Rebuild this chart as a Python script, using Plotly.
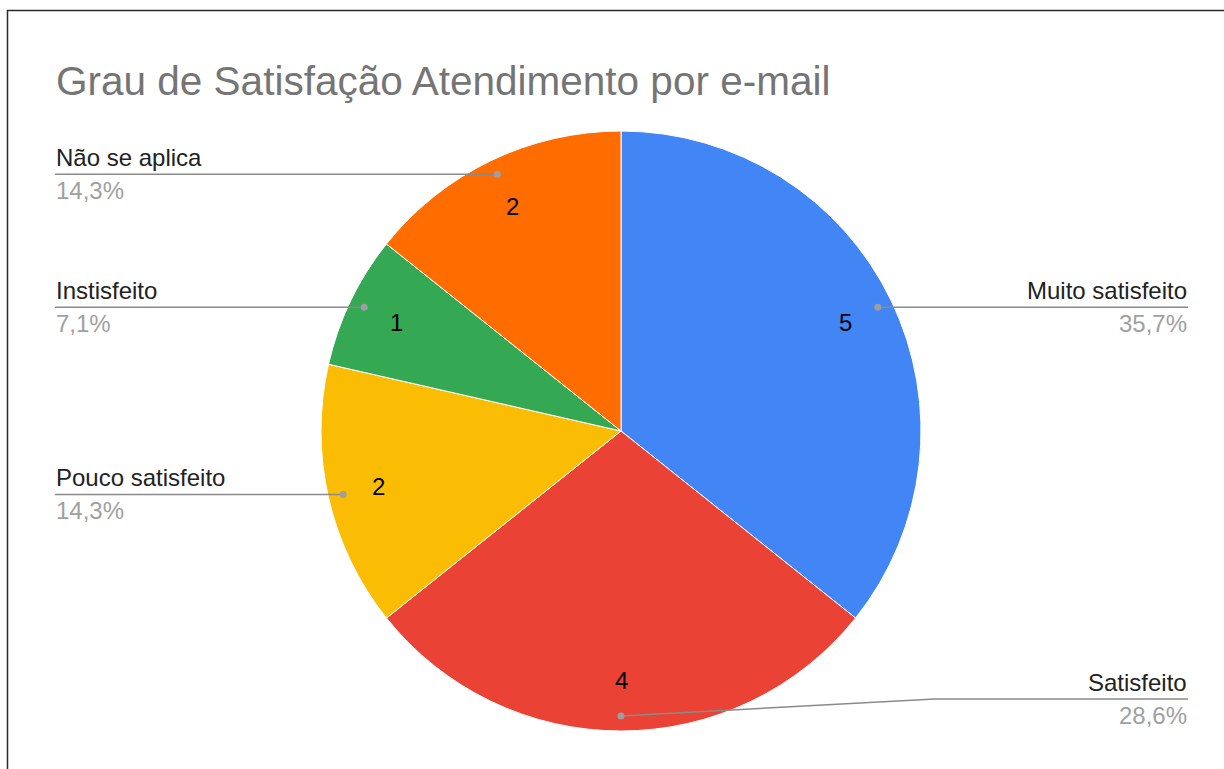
import math
import plotly.graph_objects as go

# ---- data ----
categories = ["Muito satisfeito", "Satisfeito", "Pouco satisfeito", "Instisfeito", "Não se aplica"]
values = [5, 4, 2, 1, 2]
colors = ["#4285F4", "#EA4335", "#FBBC04", "#34A853", "#FF6D01"]
title_text = "Grau de Satisfação Atendimento por e-mail"

# ---- layout geometry (pixels) ----
W, H = 1224, 769
CX, CY, R = 621, 431, 300
LEFT_X, RIGHT_X = 55, 1188
MAX_LINE_Y = 699
KINK_X = 935
FONT = "Liberation Sans, Arial, sans-serif"
LABEL_SIZE = 24


def px(x):
    return x / W


def py(y):
    return 1 - y / H


total = sum(values)
fig = go.Figure()
fig.add_trace(go.Pie(
    labels=categories, values=values, sort=False, direction="clockwise", rotation=0,
    marker=dict(colors=colors, line=dict(color="white", width=1)),
    textinfo="none", hoverinfo="label+value+percent", showlegend=False,
    domain=dict(x=[px(CX - R), px(CX + R)], y=[py(CY + R), py(CY - R)]),
))

annotations = []
shapes = []
cum = 0
for cat, v in zip(categories, values):
    mid = (cum + v / 2) / total * 2 * math.pi
    cum += v
    s, c = math.sin(mid), math.cos(mid)
    # value inside slice
    nx, ny = CX + 0.83 * R * s, CY - 0.83 * R * c
    annotations.append(dict(x=px(nx), y=py(ny), xref="paper", yref="paper", text=str(v),
                            showarrow=False, font=dict(family=FONT, size=LABEL_SIZE, color="#000000"),
                            xanchor="center", yanchor="middle"))
    # leader dot
    dx, dy = CX + 0.95 * R * s, CY - 0.95 * R * c
    line_y = min(dy, MAX_LINE_Y)
    right = s > 0 or (abs(s) < 1e-9 and c < 0)
    end_x = RIGHT_X if right else LEFT_X
    if abs(line_y - dy) > 0.5:
        shapes.append(dict(type="line", xref="paper", yref="paper", x0=px(dx), y0=py(dy),
                           x1=px(KINK_X), y1=py(line_y), line=dict(color="#8a8a8a", width=1.5)))
        shapes.append(dict(type="line", xref="paper", yref="paper", x0=px(KINK_X), y0=py(line_y),
                           x1=px(end_x), y1=py(line_y), line=dict(color="#8a8a8a", width=1.5)))
    else:
        shapes.append(dict(type="line", xref="paper", yref="paper", x0=px(dx), y0=py(line_y),
                           x1=px(end_x), y1=py(line_y), line=dict(color="#8a8a8a", width=1.5)))
    rr = 3.5
    shapes.append(dict(type="circle", xref="paper", yref="paper", x0=px(dx - rr), x1=px(dx + rr),
                       y0=py(dy + rr), y1=py(dy - rr), fillcolor="#9e9e9e", line=dict(width=0)))
    anchor = "right" if right else "left"
    annotations.append(dict(x=px(end_x), y=py(line_y - 2), xref="paper", yref="paper", text=cat,
                            showarrow=False, font=dict(family=FONT, size=LABEL_SIZE, color="#222222"),
                            xanchor=anchor, yanchor="bottom", borderpad=0))
    pct = f"{v / total * 100:.1f}".replace(".", ",") + "%"
    annotations.append(dict(x=px(end_x), y=py(line_y + 2), xref="paper", yref="paper", text=pct,
                            showarrow=False, font=dict(family=FONT, size=LABEL_SIZE, color="#a0a0a0"),
                            xanchor=anchor, yanchor="top", borderpad=0))

# title
annotations.append(dict(x=px(55), y=py(57), xref="paper", yref="paper", text=title_text,
                        showarrow=False, font=dict(family=FONT, size=40.5, color="#757575"),
                        xanchor="left", yanchor="top", borderpad=0))

# frame
shapes.append(dict(type="rect", xref="paper", yref="paper", x0=px(7.5), x1=px(W + 20),
                   y0=py(H + 20), y1=py(10.5), line=dict(color="#2a2a2a", width=1.5),
                   fillcolor="rgba(0,0,0,0)"))

fig.update_layout(
    width=W, height=H, margin=dict(l=0, r=0, t=0, b=0),
    paper_bgcolor="white", plot_bgcolor="white",
    annotations=annotations, shapes=shapes,
)

fig.write_html("out.html", config={"displayModeBar": False},
               post_script="document.body.style.margin='0';")
